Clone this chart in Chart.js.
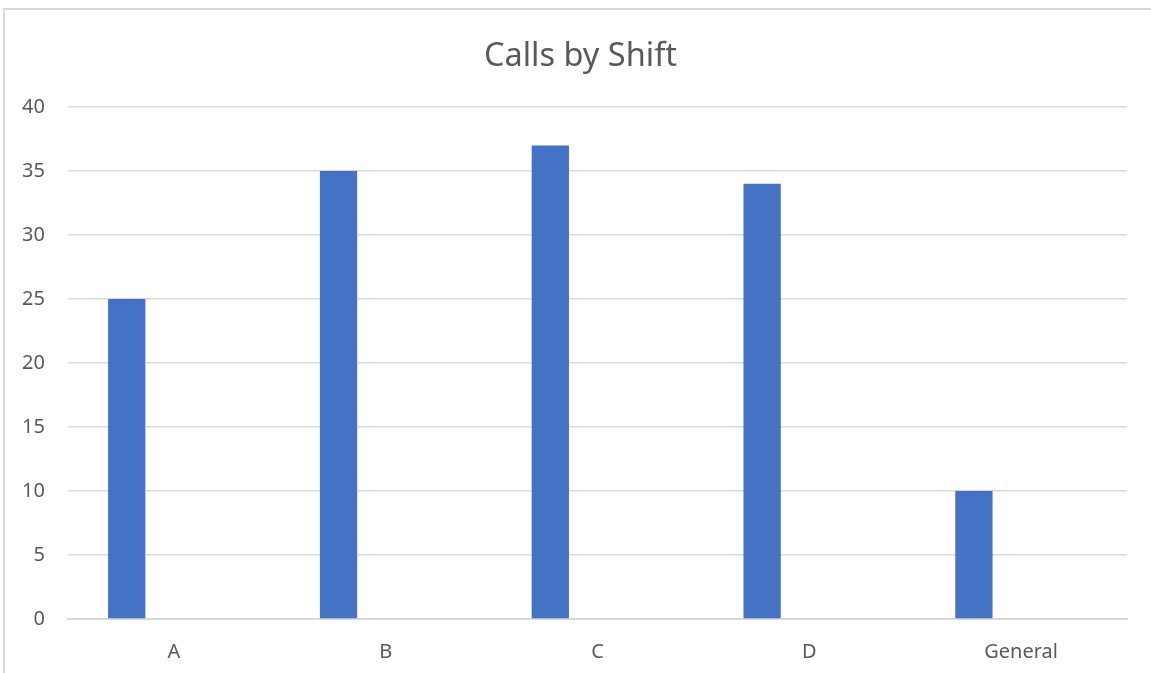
<!DOCTYPE html>
<html lang="en">
<head>
    <meta charset="UTF-8">
    <title>Calls by Shift</title>
    <script src="https://cdn.jsdelivr.net/npm/chart.js"></script>
    <style>
        html, body { margin: 0; padding: 0; background: #fff; overflow: hidden; }
        .frame { position: absolute; left: 3px; top: 8px; width: 1200px; height: 720px;
                 border-left: 2px solid #d9d9d9; border-top: 2px solid #d9d9d9; }
        #chart { position: absolute; left: 0; top: 0; }
    </style>
</head>
<body>
    <div class="frame"></div>
    <canvas id="chart" width="1151" height="673"></canvas>

    <script>
        // values
        const shifts = ['A', 'B', 'C', 'D', 'General'];
        const calls = [25, 35, 37, 34, 10];
        // second column of the sheet is empty, but it still takes a slot next to each bar
        const emptySeries = [null, null, null, null, null];
        const yTicks = [0, 5, 10, 15, 20, 25, 30, 35, 40];

        const grey = '#595959';
        const gridGrey = '#d9d9d9';
        const font = 'Noto Sans';

        new Chart(document.getElementById('chart'), {
            type: 'bar',
            data: {
                labels: shifts,
                datasets: [
                    { label: 'Calls', data: calls, backgroundColor: '#4472c4', borderWidth: 0 },
                    { label: '', data: emptySeries, backgroundColor: '#ed7d31' }
                ]
            },
            options: {
                responsive: false,
                animation: false,
                categoryPercentage: 0.891,
                barPercentage: 0.395,
                layout: { padding: { left: 10, right: 0, top: 0, bottom: 0 } },
                plugins: {
                    legend: { display: false },
                    tooltip: { enabled: false },
                    title: {
                        display: true,
                        text: 'Calls by Shift',
                        color: grey,
                        font: { family: font, size: 32.5, weight: 'normal' },
                        padding: { top: 37, bottom: 31 }
                    }
                },
                scales: {
                    x: {
                        afterFit: s => { s.height = 54; },
                        grid: { display: false },
                        border: { display: true, color: gridGrey, width: 2 },
                        ticks: { color: grey, padding: 13, font: { family: font, size: 20 } }
                    },
                    y: {
                        min: 0,
                        max: 40,
                        afterFit: s => { s.width = 58; },
                        afterBuildTicks: s => { s.ticks = yTicks.map(v => ({ value: v })); },
                        border: { display: false },
                        grid: { color: gridGrey, lineWidth: 1.5, drawTicks: false },
                        ticks: { color: grey, padding: 23, font: { family: font, size: 20 } }
                    },
                    // blank strip on the right so the plot stops short of the frame
                    spacer: {
                        type: 'linear',
                        position: 'right',
                        afterFit: s => { s.width = 24; },
                        grid: { display: false },
                        border: { display: false },
                        ticks: { display: false }
                    }
                }
            }
        });
    </script>
</body>
</html>
